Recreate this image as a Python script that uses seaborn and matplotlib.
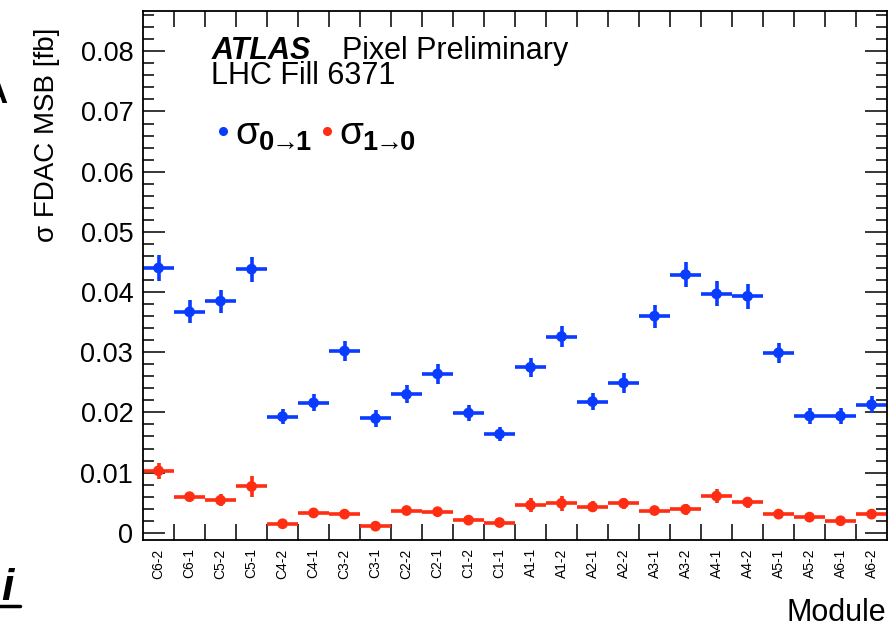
import numpy as np
import pandas as pd
import matplotlib
matplotlib.use("Agg")
import matplotlib.pyplot as plt
import seaborn as sns
from matplotlib.lines import Line2D
from matplotlib.ticker import FixedLocator, MultipleLocator, FuncFormatter

# Per-module FDAC MSB upset cross sections
modules = ['C6-2', 'C6-1', 'C5-2', 'C5-1', 'C4-2', 'C4-1', 'C3-2', 'C3-1',
           'C2-2', 'C2-1', 'C1-2', 'C1-1', 'A1-1', 'A1-2', 'A2-1', 'A2-2',
           'A3-1', 'A3-2', 'A4-1', 'A4-2', 'A5-1', 'A5-2', 'A6-1', 'A6-2']

sigma01 = [0.0440, 0.0367, 0.0385, 0.0438, 0.0193, 0.0216, 0.0302, 0.0190,
           0.0230, 0.0264, 0.0199, 0.0164, 0.0275, 0.0326, 0.0218, 0.0249,
           0.0360, 0.0429, 0.0397, 0.0393, 0.0299, 0.0194, 0.0194, 0.0213]
err01 = [0.0022, 0.0019, 0.0019, 0.0021, 0.0012, 0.0014, 0.0016, 0.0014,
         0.0015, 0.0017, 0.0014, 0.0011, 0.0016, 0.0018, 0.0014, 0.0016,
         0.0019, 0.0021, 0.0021, 0.0021, 0.0017, 0.0014, 0.0013, 0.0014]

sigma10 = [0.0103, 0.0060, 0.0054, 0.0077, 0.0015, 0.0033, 0.0031, 0.0011,
           0.0037, 0.0035, 0.0021, 0.0017, 0.0046, 0.0049, 0.0043, 0.0049,
           0.0037, 0.0039, 0.0061, 0.0051, 0.0031, 0.0026, 0.0020, 0.0031]
err10 = [0.0013, 0.0008, 0.0010, 0.0017, 0.0007, 0.0007, 0.0007, 0.0006,
         0.0007, 0.0007, 0.0006, 0.0006, 0.0011, 0.0012, 0.0009, 0.0009,
         0.0008, 0.0009, 0.0011, 0.0009, 0.0007, 0.0006, 0.0006, 0.0008]

series_labels = [r'$\sigma_{\mathbf{0\!\!\rightarrow\!\!1}}$',
                 r'$\sigma_{\mathbf{1\!\!\rightarrow\!\!0}}$']
series_colors = ['#0a3cff', '#ff2d12']

sns.set_theme(style="white")
plt.rcParams.update({
    'font.family': ['Liberation Sans', 'DejaVu Sans'],
    'mathtext.fontset': 'custom',
    'mathtext.rm': 'Liberation Sans',
    'mathtext.it': 'Liberation Sans',
    'mathtext.bf': 'Liberation Sans:bold',
    'text.color': 'black',
    'axes.labelcolor': 'black',
    'xtick.color': 'black',
    'ytick.color': 'black',
    'axes.edgecolor': 'black',
    'axes.linewidth': 1.3,
})

df = pd.concat([
    pd.DataFrame({'module': modules, 'value': sigma01, 'err': err01, 'series': series_labels[0]}),
    pd.DataFrame({'module': modules, 'value': sigma10, 'err': err10, 'series': series_labels[1]}),
], ignore_index=True)
df['pos'] = df['module'].map({m: i for i, m in enumerate(modules)})

fig = plt.figure(figsize=(8.94, 6.31), dpi=100)
ax = fig.add_axes([0.160, 0.1442, 0.8322, 0.8384])

palette = dict(zip(series_labels, series_colors))
for lab in series_labels:
    sub = df[df['series'] == lab]
    ax.errorbar(sub['pos'], sub['value'], yerr=sub['err'], xerr=0.5,
                fmt='none', ecolor=palette[lab], elinewidth=2.6, capsize=0, zorder=2)
sns.scatterplot(data=df, x='pos', y='value', hue='series', palette=palette,
                s=60, edgecolor='none', legend=False, ax=ax, zorder=3)

ax.set_xlim(-0.5, len(modules) - 0.5)
ax.set_ylim(-0.0012, 0.0867)

# y axis: inward ticks on both sides
ax.yaxis.set_major_locator(MultipleLocator(0.01))
ax.yaxis.set_minor_locator(MultipleLocator(0.002))
ax.yaxis.set_major_formatter(FuncFormatter(lambda v, p: '0' if abs(v) < 1e-9 else f'{v:.2f}'))
ax.tick_params(axis='y', which='major', direction='in', length=15.5, width=1.1,
               left=True, right=True, labelsize=19.5, pad=7, colors='black')
ax.tick_params(axis='y', which='minor', direction='in', length=7.8, width=1.1,
               left=True, right=True)

# x axis: labels at bin centres, ticks at bin edges
ax.xaxis.set_major_locator(FixedLocator(np.arange(len(modules))))
ax.set_xticklabels(modules, rotation=90)
ax.xaxis.set_minor_locator(FixedLocator(np.arange(len(modules) - 1) + 0.5))
ax.tick_params(axis='x', which='major', length=0, labelsize=10, pad=6, colors='black')
ax.tick_params(axis='x', which='minor', direction='in', length=11.5, width=1.1,
               bottom=True, top=True)
ax.set_xlabel('')
ax.set_ylabel('')
for s in ax.spines.values():
    s.set_color('black')
    s.set_linewidth(1.3)

# axis titles
fig.text(886 / 894, 1 - 613 / 631, 'Module', ha='right', va='center', fontsize=22)
fig.text(47 / 894, 1 - 28 / 631, 'σ FDAC MSB [fb]', rotation=90, ha='center',
         va='top', fontsize=20)

# header
ax.text(0.092, 0.910, 'ATLAS', transform=ax.transAxes, fontsize=22,
        fontweight='bold', style='italic', ha='left', va='baseline')
ax.text(0.268, 0.910, 'Pixel Preliminary', transform=ax.transAxes, fontsize=22,
        ha='left', va='baseline')
ax.text(0.092, 0.862, 'LHC Fill 6371', transform=ax.transAxes, fontsize=22,
        ha='left', va='baseline')

# legend
handles = [Line2D([], [], marker='o', linestyle='none', markersize=5.5,
                  markerfacecolor=c, markeredgecolor=c) for c in series_colors]
ax.legend(handles, series_labels, loc='upper left', bbox_to_anchor=(0.098, 0.80),
          ncol=2, frameon=False, fontsize=28, handlelength=0.35, handletextpad=0.15,
          columnspacing=0.2, borderaxespad=0, borderpad=0)

# fragments along the left page edge
fig.text(7 / 894, 1 - 103 / 631, 'A', ha='right', va='baseline', fontsize=24,
         fontweight='bold', color='black')
fig.text(1 / 894, 1 - 600 / 631, 'i', ha='left', va='baseline', fontsize=32,
         fontweight='bold', style='italic', color='black')
fig.add_artist(Line2D([0, 20 / 894], [1 - 606 / 631] * 2, color='black', lw=2.5))

fig.savefig('out.png', dpi=100, facecolor='white')
